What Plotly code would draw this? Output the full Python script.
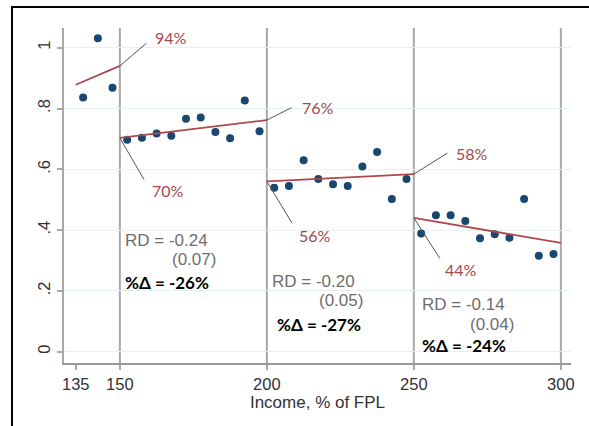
import plotly.graph_objects as go

# ---- data ----
bin_x = [137.5, 142.5, 147.5,
         152.5, 157.5, 162.5, 167.5, 172.5, 177.5, 182.5, 187.5, 192.5, 197.5,
         202.5, 207.5, 212.5, 217.5, 222.5, 227.5, 232.5, 237.5, 242.5, 247.5,
         252.5, 257.5, 262.5, 267.5, 272.5, 277.5, 282.5, 287.5, 292.5, 297.5]
bin_y = [0.836, 1.031, 0.868,
         0.697, 0.704, 0.718, 0.710, 0.766, 0.770, 0.723, 0.702, 0.826, 0.725,
         0.539, 0.545, 0.630, 0.568, 0.551, 0.545, 0.609, 0.657, 0.502, 0.568,
         0.389, 0.449, 0.449, 0.430, 0.373, 0.386, 0.375, 0.502, 0.316, 0.321]

fit_x0 = [135, 150, 200, 250]
fit_x1 = [150, 200, 250, 300]
fit_y0 = [0.878, 0.703, 0.560, 0.440]
fit_y1 = [0.940, 0.762, 0.584, 0.358]

cutoffs = [150, 200, 250, 300]

# labels for fit endpoints: (x, y, text)
end_labels = [(150, 0.940, "94%"), (150, 0.703, "70%"), (200, 0.762, "76%"),
              (200, 0.560, "56%"), (250, 0.584, "58%"), (250, 0.440, "44%")]
# leader tail offset (px) and text offset (px)
leader_off = [(28, -24), (25, 43), (26, -13), (26, 43), (35, -22), (27, 42)]
text_off = [(33, 28), (30, -53), (33, 13), (30, -54), (40, 21), (29, -52)]

rd_text = ["RD = -0.24", "RD = -0.20", "RD = -0.14"]
se_text = ["(0.07)", "(0.05)", "(0.04)"]
pct_text = ["%Δ = -26%", "%Δ = -27%", "%Δ = -24%"]
rd_pos = [(151.1, 0.367), (201.0, 0.230), (252.1, 0.154)]
se_pos = [(167.0, 0.304), (217.0, 0.170), (268.5, 0.091)]
pct_pos = [(151.0, 0.227), (202.7, 0.091), (252.1, 0.020)]

x_ticks = [135, 150, 200, 250, 300]
y_ticks = [0, 0.2, 0.4, 0.6, 0.8, 1.0]
y_ticktext = ["0", ".2", ".4", ".6", ".8", "1"]

NAVY = "#1a476f"
RED = "#b0474d"
REDTXT = "#a6474d"
GRAY = "#a8a8a8"

fig = go.Figure()

fig.add_trace(go.Scatter(x=bin_x, y=bin_y, mode="markers",
                         marker=dict(color=NAVY, size=8), showlegend=False))

for a, b, c, d in zip(fit_x0, fit_x1, fit_y0, fit_y1):
    fig.add_trace(go.Scatter(x=[a, b], y=[c, d], mode="lines",
                             line=dict(color=RED, width=1.8), showlegend=False))

shapes = []
for cx in cutoffs:
    shapes.append(dict(type="line", xref="x", yref="paper", x0=cx, x1=cx, y0=0, y1=1,
                       line=dict(color=GRAY, width=2), layer="below"))
# outer frame (top and left edges of a box cropped at right/bottom)
shapes.append(dict(type="rect", xref="paper", yref="paper",
                   x0=-0.1026, x1=1.2, y0=-0.5, y1=1.0627,
                   line=dict(color="black", width=2), fillcolor="rgba(0,0,0,0)"))

annotations = []
for (x, y, t), (lx, ly), (tx, ty) in zip(end_labels, leader_off, text_off):
    annotations.append(dict(x=x, y=y, xref="x", yref="y", text="", showarrow=True,
                            ax=lx, ay=ly, arrowhead=0, arrowwidth=1, arrowcolor="#555555",
                            standoff=0, startstandoff=0))
    annotations.append(dict(x=x, y=y, xref="x", yref="y", text=t, showarrow=False,
                            xanchor="left", yanchor="middle", xshift=tx, yshift=ty,
                            font=dict(family="Lato", size=16, color=REDTXT)))

for t, (x, y) in zip(rd_text, rd_pos):
    annotations.append(dict(x=x, y=y, xref="x", yref="y", text=t, showarrow=False,
                            xanchor="left", yanchor="middle",
                            font=dict(family="Liberation Sans", size=17, color="#6e6e6e")))
for t, (x, y) in zip(se_text, se_pos):
    annotations.append(dict(x=x, y=y, xref="x", yref="y", text=t, showarrow=False,
                            xanchor="left", yanchor="middle",
                            font=dict(family="Liberation Sans", size=17, color="#6e6e6e")))
for t, (x, y) in zip(pct_text, pct_pos):
    annotations.append(dict(x=x, y=y, xref="x", yref="y", text="<b>" + t + "</b>",
                            showarrow=False, xanchor="left", yanchor="middle",
                            font=dict(family="Lato", size=17, color="black")))

fig.update_layout(
    width=589, height=426,
    margin=dict(l=64, r=18, t=28, b=63),
    paper_bgcolor="white", plot_bgcolor="white",
    shapes=shapes, annotations=annotations,
    xaxis=dict(range=[131, 303.45], tickvals=x_ticks, ticks="outside", ticklen=5,
               tickcolor=GRAY, tickwidth=2, showline=True, linecolor="#999999",
               linewidth=2, showgrid=False, zeroline=False,
               tickfont=dict(family="Liberation Sans", size=16.5, color="#333333"),
               title=dict(text="Income, % of FPL", standoff=2,
                          font=dict(family="Liberation Sans", size=17, color="#333333"))),
    yaxis=dict(range=[-0.0372, 1.0648], tickvals=y_ticks, ticktext=y_ticktext,
               tickangle=-90, ticks="outside", ticklen=5, tickcolor=GRAY, tickwidth=1.5,
               showline=True, linecolor=GRAY, linewidth=2, showgrid=True,
               gridcolor="#e6f0f2", gridwidth=1, zeroline=False,
               tickfont=dict(family="Liberation Sans", size=16.5, color="#333333")),
)

fig.write_html("out.html", config={"displayModeBar": False},
               post_script="document.body.style.margin='0px';document.body.style.padding='0px';")
